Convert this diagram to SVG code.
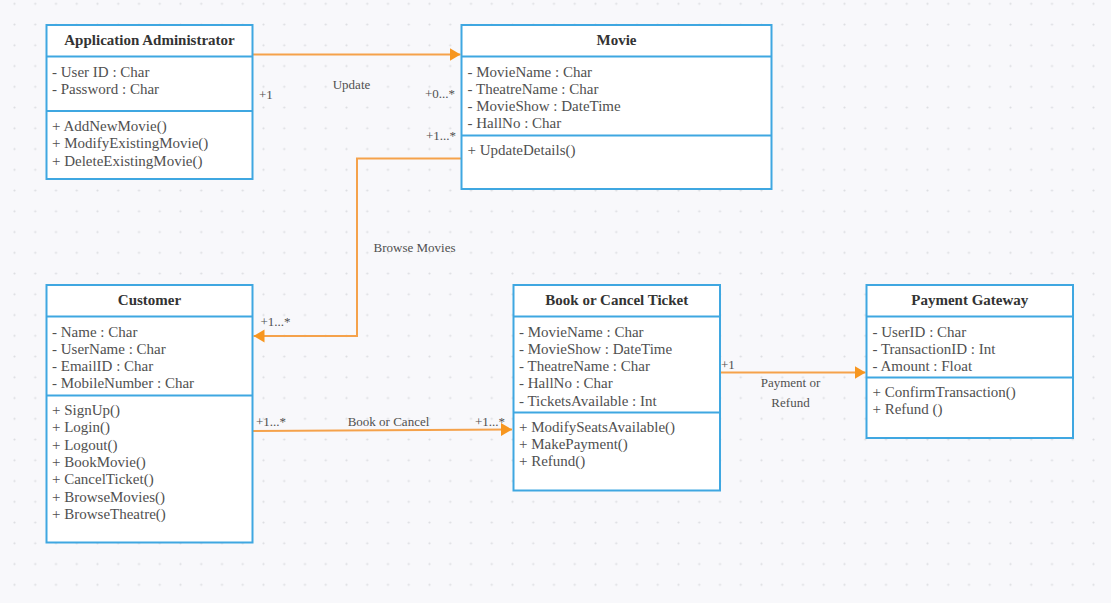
<svg xmlns="http://www.w3.org/2000/svg" width="1111" height="603" viewBox="0 0 1111 603">
<defs>
<pattern id="dots" patternUnits="userSpaceOnUse" x="4.125" y="-6.575" width="20.75" height="20.75">
<circle cx="10.375" cy="10.375" r="1.1" fill="#dcdde1"/>
</pattern>
<marker id="arr" markerUnits="userSpaceOnUse" markerWidth="12" markerHeight="14" refX="11" refY="7" orient="auto">
<path d="M0,0.5 L11,7 L0,13.5 Z" fill="#f7961f"/>
</marker>
<style>
.box{fill:#ffffff;stroke:#3fa7e1;stroke-width:2}
.div{stroke:#3fa7e1;stroke-width:2}
text{font-family:'Liberation Serif','Tinos','DejaVu Serif','Noto Serif',serif}
.title{font-size:15px;font-weight:bold;fill:#333333;text-anchor:middle}
.txt{font-size:15px;fill:#505050}
.lbl{font-size:13px;fill:#505050}
.mid{text-anchor:middle}
.end{text-anchor:end}
.conn{fill:none;stroke:#f5a24b;stroke-width:2}
</style>
</defs>
<rect width="1111" height="603" fill="#f8f8fb"/>
<rect width="1111" height="603" fill="url(#dots)"/>

<g id="connectors">
<path class="conn" d="M252.5,54.5 L460.5,54.5" marker-end="url(#arr)"/>
<path class="conn" d="M461.5,158.5 L357,158.5 L357,336 L253.5,336" marker-end="url(#arr)"/>
<path class="conn" d="M252.5,431 L512,429.5" marker-end="url(#arr)"/>
<path class="conn" d="M720,372.5 L865.5,372.5" marker-end="url(#arr)"/>
<text class="lbl" x="259" y="98.5">+1</text>
<text class="lbl mid" x="351.5" y="88.5">Update</text>
<text class="lbl end" x="455" y="97.5">+0...*</text>
<text class="lbl end" x="456" y="139.5">+1...*</text>
<text class="lbl mid" x="414.5" y="252">Browse Movies</text>
<text class="lbl" x="260.5" y="326">+1...*</text>
<text class="lbl" x="256" y="426">+1...*</text>
<text class="lbl mid" x="388.5" y="426">Book or Cancel</text>
<text class="lbl end" x="505" y="426">+1...*</text>
<text class="lbl" x="721" y="369">+1</text>
<text class="lbl mid" x="790.5" y="387">Payment or</text>
<text class="lbl mid" x="790.5" y="406.5">Refund</text>
</g>

<g id="app-admin">
<rect class="box" x="46.5" y="25" width="206" height="154"/>
<line class="div" x1="46.5" y1="56.5" x2="252.5" y2="56.5"/>
<line class="div" x1="46.5" y1="111" x2="252.5" y2="111"/>
<text class="title" x="149.5" y="44.5">Application Administrator</text>
<text class="txt" x="52" y="76.5">- User ID : Char</text>
<text class="txt" x="52" y="94">- Password : Char</text>
<text class="txt" x="52" y="131">+ AddNewMovie()</text>
<text class="txt" x="52" y="148.3">+ ModifyExistingMovie()</text>
<text class="txt" x="52" y="165.6">+ DeleteExistingMovie()</text>
</g>

<g id="movie">
<rect class="box" x="461.5" y="25" width="310" height="164"/>
<line class="div" x1="461.5" y1="56.5" x2="771.5" y2="56.5"/>
<line class="div" x1="461.5" y1="135.5" x2="771.5" y2="135.5"/>
<text class="title" x="616.5" y="44.5">Movie</text>
<text class="txt" x="467.5" y="76.5">- MovieName : Char</text>
<text class="txt" x="467.5" y="93.8">- TheatreName : Char</text>
<text class="txt" x="467.5" y="111.1">- MovieShow : DateTime</text>
<text class="txt" x="467.5" y="128.4">- HallNo : Char</text>
<text class="txt" x="467.5" y="155">+ UpdateDetails()</text>
</g>

<g id="customer">
<rect class="box" x="46.5" y="285" width="206" height="257.5"/>
<line class="div" x1="46.5" y1="316.5" x2="252.5" y2="316.5"/>
<line class="div" x1="46.5" y1="395.5" x2="252.5" y2="395.5"/>
<text class="title" x="149.5" y="304.5">Customer</text>
<text class="txt" x="52" y="336.5">- Name : Char</text>
<text class="txt" x="52" y="353.8">- UserName : Char</text>
<text class="txt" x="52" y="371.1">- EmailID : Char</text>
<text class="txt" x="52" y="388.4">- MobileNumber : Char</text>
<text class="txt" x="52" y="415">+ SignUp()</text>
<text class="txt" x="52" y="432.3">+ Login()</text>
<text class="txt" x="52" y="449.6">+ Logout()</text>
<text class="txt" x="52" y="466.9">+ BookMovie()</text>
<text class="txt" x="52" y="484.2">+ CancelTicket()</text>
<text class="txt" x="52" y="501.5">+ BrowseMovies()</text>
<text class="txt" x="52" y="518.8">+ BrowseTheatre()</text>
</g>

<g id="book-cancel">
<rect class="box" x="513.5" y="285" width="206.5" height="205.5"/>
<line class="div" x1="513.5" y1="316.5" x2="720" y2="316.5"/>
<line class="div" x1="513.5" y1="412.5" x2="720" y2="412.5"/>
<text class="title" x="616.8" y="304.5">Book or Cancel Ticket</text>
<text class="txt" x="519" y="336.5">- MovieName : Char</text>
<text class="txt" x="519" y="353.8">- MovieShow : DateTime</text>
<text class="txt" x="519" y="371.1">- TheatreName : Char</text>
<text class="txt" x="519" y="388.4">- HallNo : Char</text>
<text class="txt" x="519" y="405.7">- TicketsAvailable  : Int</text>
<text class="txt" x="519" y="431.5">+ ModifySeatsAvailable()</text>
<text class="txt" x="519" y="448.8">+ MakePayment()</text>
<text class="txt" x="519" y="466.1">+ Refund()</text>
</g>

<g id="payment-gateway">
<rect class="box" x="866.5" y="285" width="206.5" height="153"/>
<line class="div" x1="866.5" y1="316.5" x2="1073" y2="316.5"/>
<line class="div" x1="866.5" y1="377.5" x2="1073" y2="377.5"/>
<text class="title" x="969.8" y="304.5">Payment Gateway</text>
<text class="txt" x="872.5" y="336.5">- UserID : Char</text>
<text class="txt" x="872.5" y="353.8">- TransactionID : Int</text>
<text class="txt" x="872.5" y="371.1">- Amount : Float</text>
<text class="txt" x="872.5" y="396.5">+ ConfirmTransaction()</text>
<text class="txt" x="872.5" y="413.8">+ Refund ()</text>
</g>
</svg>
